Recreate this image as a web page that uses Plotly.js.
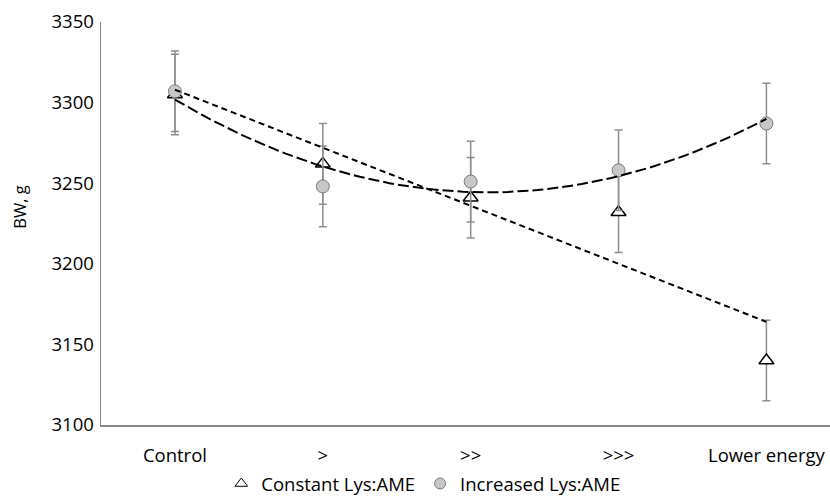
<!DOCTYPE html>
<html>
<head>
<meta charset="utf-8">
<script src="https://cdn.plot.ly/plotly-3.0.1.min.js"></script>
<style>html,body{margin:0;padding:0;background:#fff;}#chart{width:830px;height:500px;}</style>
</head>
<body>
<div id="chart"></div>
<script>
var categories = ["Control", ">", ">>", ">>>", "Lower energy"];
var constantLys = [3305, 3262, 3241, 3232, 3140];
var constantErr = [25, 25, 25, 25, 25];
var increasedLys = [3307, 3248, 3251, 3258, 3287];
var increasedErr = [25, 25, 25, 25, 25];
var yTicks = [3100, 3150, 3200, 3250, 3300, 3350];

var xIdx = categories.map(function(_, i){ return i; });

// least-squares polynomial fit (like a spreadsheet trendline)
function polyfit(xs, ys, deg) {
  var n = deg + 1, A = [], b = [];
  for (var r = 0; r < n; r++) {
    A.push([]); b.push(0);
    for (var c = 0; c < n; c++) {
      var s = 0;
      for (var k = 0; k < xs.length; k++) s += Math.pow(xs[k], r + c);
      A[r].push(s);
    }
    for (var k2 = 0; k2 < xs.length; k2++) b[r] += ys[k2] * Math.pow(xs[k2], r);
  }
  for (var i = 0; i < n; i++) {
    var p = i;
    for (var j = i + 1; j < n; j++) if (Math.abs(A[j][i]) > Math.abs(A[p][i])) p = j;
    var t = A[i]; A[i] = A[p]; A[p] = t; var tb = b[i]; b[i] = b[p]; b[p] = tb;
    for (var j2 = i + 1; j2 < n; j2++) {
      var f = A[j2][i] / A[i][i];
      for (var c2 = i; c2 < n; c2++) A[j2][c2] -= f * A[i][c2];
      b[j2] -= f * b[i];
    }
  }
  var coef = new Array(n);
  for (var i2 = n - 1; i2 >= 0; i2--) {
    var s2 = b[i2];
    for (var c3 = i2 + 1; c3 < n; c3++) s2 -= A[i2][c3] * coef[c3];
    coef[i2] = s2 / A[i2][i2];
  }
  return coef;
}
function evalFit(coef, xs) {
  return xs.map(function(x){ var s = 0; for (var i = 0; i < coef.length; i++) s += coef[i] * Math.pow(x, i); return s; });
}
var fitX = [];
for (var q = 0; q <= 80; q++) fitX.push(q * 4 / 80);
var linCoef = polyfit(xIdx, constantLys, 1);
var quadCoef = polyfit(xIdx, increasedLys, 2);

var font = "'Open Sans', 'Liberation Sans', sans-serif";
var errStyle = {type: 'data', visible: true, thickness: 1.5, width: 4, color: '#8e8e8e'};

var traces = [
  {x: xIdx, y: constantLys, type: 'scatter', mode: 'markers', showlegend: false,
   error_y: Object.assign({array: constantErr}, errStyle),
   marker: {symbol: 'triangle-up', size: 13, color: '#ffffff', line: {color: '#000000', width: 1.5}}},
  {x: xIdx, y: increasedLys, type: 'scatter', mode: 'markers', showlegend: false,
   error_y: Object.assign({array: increasedErr}, errStyle),
   marker: {symbol: 'circle', size: 13, color: '#c8c8c8', line: {color: '#7a7a7a', width: 1}}},
  {x: fitX, y: evalFit(linCoef, fitX), type: 'scatter', mode: 'lines', showlegend: false,
   line: {color: '#000000', width: 2, dash: '6px,4px'}},
  {x: fitX, y: evalFit(quadCoef, fitX), type: 'scatter', mode: 'lines', showlegend: false,
   line: {color: '#000000', width: 2, dash: '11px,4px'}},
  {x: [null], y: [null], type: 'scatter', mode: 'markers', name: 'Constant Lys:AME',
   marker: {symbol: 'triangle-up', size: 11, color: '#ffffff', line: {color: '#000000', width: 1}}},
  {x: [null], y: [null], type: 'scatter', mode: 'markers', name: 'Increased Lys:AME',
   marker: {symbol: 'circle', size: 11, color: '#c8c8c8', line: {color: '#7a7a7a', width: 1}}}
];

var layout = {
  width: 830, height: 500,
  margin: {l: 101, r: 0, t: 22, b: 75, autoexpand: false},
  paper_bgcolor: '#ffffff', plot_bgcolor: '#ffffff',
  font: {family: font, color: '#000000', size: 18},
  showlegend: true,
  legend: {orientation: 'h', x: 0.51, xref: 'container', xanchor: 'center',
           y: 0.032, yref: 'container', yanchor: 'middle',
           font: {size: 18.5, family: font}, itemwidth: 30, tracegroupgap: 0},
  xaxis: {range: [-0.5, 4.43], tickmode: 'array', tickvals: xIdx, ticktext: categories,
          showgrid: false, zeroline: false, showline: true, linecolor: '#868686', linewidth: 1.5,
          ticks: '', ticklabelstandoff: 13, tickfont: {size: 18.5, family: font}, fixedrange: true},
  yaxis: {range: [3100, 3350], tickmode: 'array', tickvals: yTicks, ticktext: yTicks.map(String),
          showgrid: false, zeroline: false, showline: true, linecolor: '#868686', linewidth: 1.5,
          ticks: '', ticklabelstandoff: 2, tickfont: {size: 18.5, family: font}, fixedrange: true},
  annotations: [{text: 'BW, g', xref: 'paper', yref: 'paper', x: -0.112, y: 0.54,
                 xanchor: 'center', yanchor: 'middle', textangle: -90, showarrow: false,
                 font: {size: 16.5, family: font}}]
};

Plotly.newPlot('chart', traces, layout, {displayModeBar: false, staticPlot: true});
</script>
</body>
</html>
